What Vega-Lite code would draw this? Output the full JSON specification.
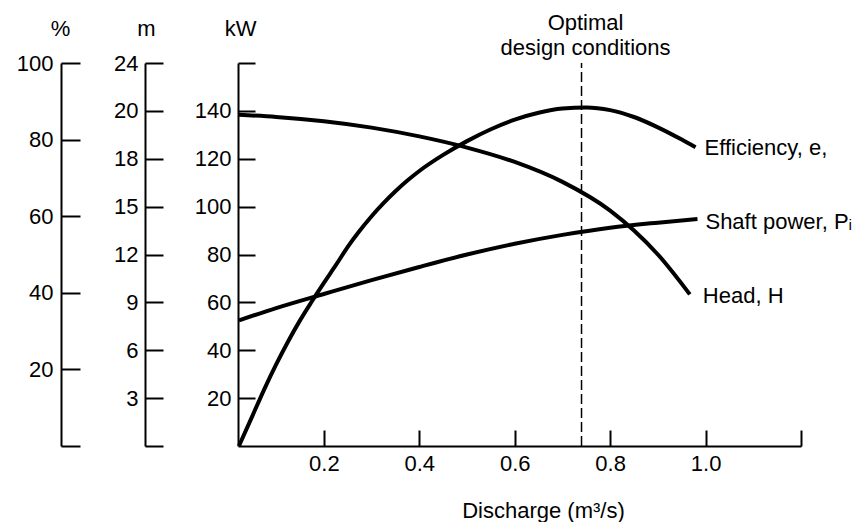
{
  "$schema": "https://vega.github.io/schema/vega-lite/v6.json",
  "width": 563,
  "height": 383,
  "autosize": {"type": "none"},
  "padding": {"left": 238, "top": 63, "right": 63, "bottom": 76},
  "background": "white",
  "config": {
    "view": {"stroke": null},
    "font": "Liberation Sans",
    "axis": {
      "domainColor": "black",
      "domainWidth": 2,
      "tickColor": "black",
      "tickWidth": 2,
      "labelColor": "black",
      "labelFontSize": 22,
      "labelFont": "Liberation Sans",
      "titleFont": "Liberation Sans",
      "titleFontSize": 22,
      "titleFontWeight": "normal",
      "titleColor": "black",
      "grid": false
    }
  },
  "datasets": {
    "power": [
      {"q": 0.022, "kW": 52.5},
      {"q": 0.1, "kW": 57.6},
      {"q": 0.2, "kW": 63.5},
      {"q": 0.3, "kW": 69.3},
      {"q": 0.4, "kW": 74.8},
      {"q": 0.5, "kW": 80.0},
      {"q": 0.6, "kW": 84.5},
      {"q": 0.7, "kW": 88.2},
      {"q": 0.8, "kW": 91.2},
      {"q": 0.9, "kW": 93.3},
      {"q": 0.983, "kW": 94.8}
    ],
    "head": [
      {"q": 0.022, "m": 20.75},
      {"q": 0.1, "m": 20.62},
      {"q": 0.2, "m": 20.35},
      {"q": 0.3, "m": 19.95},
      {"q": 0.4, "m": 19.4},
      {"q": 0.5, "m": 18.7},
      {"q": 0.6, "m": 17.8},
      {"q": 0.7, "m": 16.55},
      {"q": 0.8, "m": 14.75},
      {"q": 0.85, "m": 13.5},
      {"q": 0.9, "m": 12.0},
      {"q": 0.967, "m": 9.5}
    ],
    "efficiency": [
      {"q": 0.022, "pct": 0},
      {"q": 0.05, "pct": 7.8},
      {"q": 0.075, "pct": 14.8},
      {"q": 0.1, "pct": 21.3},
      {"q": 0.125, "pct": 27.3},
      {"q": 0.15, "pct": 32.8},
      {"q": 0.175, "pct": 37.8},
      {"q": 0.2, "pct": 42.6},
      {"q": 0.225, "pct": 47.2},
      {"q": 0.25, "pct": 52.0},
      {"q": 0.275, "pct": 56.2},
      {"q": 0.3, "pct": 60.0},
      {"q": 0.325, "pct": 63.4},
      {"q": 0.35, "pct": 66.5},
      {"q": 0.375, "pct": 69.3},
      {"q": 0.4, "pct": 71.8},
      {"q": 0.45, "pct": 76.0},
      {"q": 0.5, "pct": 79.6},
      {"q": 0.55, "pct": 82.7},
      {"q": 0.6, "pct": 85.2},
      {"q": 0.65, "pct": 87.0},
      {"q": 0.7, "pct": 88.1},
      {"q": 0.75, "pct": 88.4},
      {"q": 0.8, "pct": 87.7},
      {"q": 0.85, "pct": 85.9},
      {"q": 0.9, "pct": 83.2},
      {"q": 0.95, "pct": 80.0},
      {"q": 0.979, "pct": 78.0}
    ]
  },
  "encoding": {
    "x": {
      "field": "q",
      "type": "quantitative",
      "scale": {"domain": [0.02, 1.2], "nice": false, "zero": false},
      "axis": {
        "values": [0.2, 0.4, 0.6, 0.8, 1.0, 1.2],
        "labelExpr": "datum.value > 1.1 ? '' : format(datum.value, '.1f')",
        "tickSize": -16,
        "labelPadding": 23,
        "title": "Discharge (m³/s)",
        "titleX": 305,
        "titleY": 64,
        "titleBaseline": "middle"
      }
    }
  },
  "layer": [
    {
      "data": {"name": "power"},
      "encoding": {
        "y": {
          "field": "kW",
          "type": "quantitative",
          "scale": {"domain": [0, 160], "nice": false},
          "axis": {
            "orient": "left",
            "offset": 0,
            "values": [20, 40, 60, 80, 100, 120, 140, 160],
            "labelExpr": "datum.value == 160 ? '' : datum.label",
            "tickSize": -17,
            "labelPadding": 24,
            "title": "kW",
            "titleAngle": 0,
            "titleX": 2,
            "titleY": -35,
            "titleAlign": "center",
            "titleBaseline": "middle"
          }
        }
      },
      "layer": [
        {"mark": {"type": "line", "color": "black", "strokeWidth": 4, "interpolate": "monotone"}},
        {
          "transform": [{"filter": "datum.q > 0.98"}],
          "mark": {"type": "text", "align": "left", "baseline": "middle", "dx": 8, "dy": 3, "fontSize": 22, "color": "black"},
          "encoding": {"text": {"value": "Shaft power, Pᵢ"}}
        },
        {
          "transform": [{"filter": "datum.q > 0.98"}],
          "mark": {"type": "rule", "color": "black", "strokeWidth": 1.5, "strokeDash": [10, 4]},
          "encoding": {"x": {"datum": 0.74}, "y": {"datum": 0}, "y2": {"datum": 160}}
        },
        {
          "transform": [{"filter": "datum.q > 0.98"}],
          "mark": {"type": "text", "align": "center", "baseline": "middle", "fontSize": 22, "color": "black", "dx": 4},
          "encoding": {"x": {"datum": 0.74}, "y": {"datum": 176.7}, "text": {"value": "Optimal"}}
        },
        {
          "transform": [{"filter": "datum.q > 0.98"}],
          "mark": {"type": "text", "align": "center", "baseline": "middle", "fontSize": 22, "color": "black", "dx": 4},
          "encoding": {"x": {"datum": 0.74}, "y": {"datum": 166.3}, "text": {"value": "design conditions"}}
        }
      ]
    },
    {
      "data": {"name": "head"},
      "encoding": {
        "y": {
          "field": "m",
          "type": "quantitative",
          "scale": {"domain": [0, 24], "nice": false},
          "axis": {
            "orient": "left",
            "offset": 93,
            "values": [0, 3, 6, 9, 12, 15, 18, 21, 24],
            "labelExpr": "datum.value == 0 ? '' : datum.value == 21 ? '20' : datum.label",
            "tickSize": -18,
            "labelPadding": 25,
            "title": "m",
            "titleAngle": 0,
            "titleX": 1,
            "titleY": -35,
            "titleAlign": "center",
            "titleBaseline": "middle"
          }
        }
      },
      "layer": [
        {"mark": {"type": "line", "color": "black", "strokeWidth": 4, "interpolate": "monotone"}},
        {
          "transform": [
            {"window": [{"op": "row_number", "as": "r"}], "sort": [{"field": "q", "order": "descending"}]},
            {"filter": "datum.r == 1"}
          ],
          "mark": {"type": "text", "align": "left", "baseline": "middle", "dx": 13, "dy": 2, "fontSize": 22, "color": "black"},
          "encoding": {"text": {"value": "Head, H"}}
        }
      ]
    },
    {
      "data": {"name": "efficiency"},
      "encoding": {
        "y": {
          "field": "pct",
          "type": "quantitative",
          "scale": {"domain": [0, 100], "nice": false},
          "axis": {
            "orient": "left",
            "offset": 177,
            "values": [0, 20, 40, 60, 80, 100],
            "labelExpr": "datum.value == 0 ? '' : datum.label",
            "tickSize": -19,
            "labelPadding": 27,
            "title": "%",
            "titleAngle": 0,
            "titleX": -1,
            "titleY": -35,
            "titleAlign": "center",
            "titleBaseline": "middle"
          }
        }
      },
      "layer": [
        {"mark": {"type": "line", "color": "black", "strokeWidth": 4, "interpolate": "monotone"}},
        {
          "transform": [
            {"window": [{"op": "row_number", "as": "r"}], "sort": [{"field": "q", "order": "descending"}]},
            {"filter": "datum.r == 1"}
          ],
          "mark": {"type": "text", "align": "left", "baseline": "middle", "dx": 9, "dy": 1, "fontSize": 22, "color": "black"},
          "encoding": {"text": {"value": "Efficiency, e,"}}
        }
      ]
    }
  ],
  "resolve": {"scale": {"y": "independent"}, "axis": {"y": "independent"}}
}
